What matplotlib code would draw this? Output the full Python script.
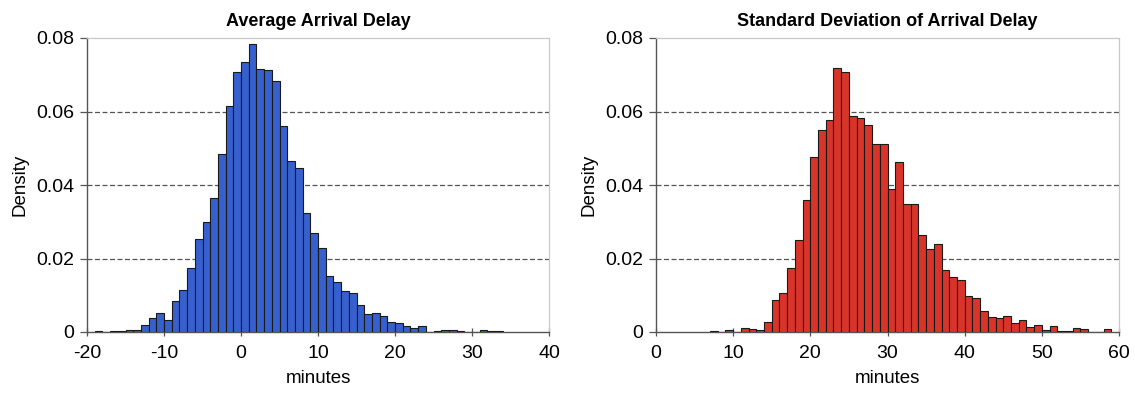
import matplotlib
matplotlib.use("Agg")
import matplotlib.pyplot as plt
from matplotlib.ticker import FixedLocator, FuncFormatter

plt.rcParams['font.family'] = ['Liberation Sans', 'DejaVu Sans']
plt.rcParams['axes.unicode_minus'] = False

# Histogram of average arrival delay (1-minute bins, left edges in minutes)
avg_edges = list(range(-19, 34))
avg_density = [
    0.0004, 0.0, 0.0003, 0.0003, 0.0005, 0.0006,            # -19 .. -14
    0.0020, 0.0038, 0.0052, 0.0032, 0.0083, 0.0114,        # -13 .. -8
    0.0175, 0.0254, 0.0300, 0.0365, 0.0485, 0.0616,        # -7 .. -2
    0.0708, 0.0735, 0.0785, 0.0716, 0.0714, 0.0683,        # -1 .. 4
    0.0561, 0.0465, 0.0445, 0.0323, 0.0270, 0.0229,        # 5 .. 10
    0.0153, 0.0136, 0.0111, 0.0106, 0.0073, 0.0049,        # 11 .. 16
    0.0053, 0.0044, 0.0026, 0.0024, 0.0017, 0.0010,        # 17 .. 22
    0.0017, 0.0, 0.0003, 0.0005, 0.0005, 0.0003,          # 23 .. 28
    0.0, 0.0, 0.0005, 0.0004, 0.0004,                      # 29 .. 33
]

# Histogram of the standard deviation of arrival delay
std_edges = list(range(7, 59))
std_density = [
    0.0004, 0.0, 0.0005, 0.0, 0.0010, 0.0008, 0.0005,      # 7 .. 13
    0.0026, 0.0086, 0.0105, 0.0175, 0.0251, 0.0358,        # 14 .. 19
    0.0475, 0.0551, 0.0577, 0.0719, 0.0708, 0.0587,        # 20 .. 25
    0.0582, 0.0563, 0.0511, 0.0511, 0.0389, 0.0462,        # 26 .. 31
    0.0348, 0.0348, 0.0265, 0.0225, 0.0240, 0.0168,        # 32 .. 37
    0.0149, 0.0141, 0.0097, 0.0092, 0.0056, 0.0040,        # 38 .. 43
    0.0037, 0.0044, 0.0024, 0.0034, 0.0014, 0.0020,        # 44 .. 49
    0.00045, 0.0017, 0.0004, 0.0004, 0.0011, 0.0008,       # 50 .. 55
    0.0, 0.0, 0.0007,                                      # 56 .. 58
]

titles = ["Average Arrival Delay", "Standard Deviation of Arrival Delay"]
x_limits = [(-20, 40), (0, 60)]
x_ticks = [[-20, -10, 0, 10, 20, 30, 40], [0, 10, 20, 30, 40, 50, 60]]
y_ticks = [0, 0.02, 0.04, 0.06, 0.08]
bar_colors = ["#3760cf", "#d9342a"]

fig = plt.figure(figsize=(11.35, 3.94), dpi=100)
ax1 = fig.add_axes([87 / 1135, 1 - 332 / 394, 462 / 1135, 294 / 394])
ax2 = fig.add_axes([656 / 1135, 1 - 332 / 394, 463 / 1135, 294 / 394])

series = [(avg_edges, avg_density), (std_edges, std_density)]

for i, ax in enumerate([ax1, ax2]):
    edges, dens = series[i]
    ax.set_axisbelow(True)
    ax.bar(edges, dens, width=1.0, align='edge', color=bar_colors[i],
           edgecolor='#1a1a1a', linewidth=0.8, zorder=3)
    ax.set_xlim(*x_limits[i])
    ax.set_ylim(0, 0.08)
    ax.xaxis.set_major_locator(FixedLocator(x_ticks[i]))
    ax.yaxis.set_major_locator(FixedLocator(y_ticks))
    ax.yaxis.set_major_formatter(FuncFormatter(lambda v, p: "0" if v == 0 else f"{v:.2f}"))
    for y in y_ticks[1:-1]:
        ax.axhline(y, color='#555555', linewidth=0.9, linestyle=(0, (4, 2)), zorder=1)
    for side in ['left', 'bottom']:
        ax.spines[side].set_color('#555555')
        ax.spines[side].set_linewidth(1.0)
    for side in ['top', 'right']:
        ax.spines[side].set_color('#c8c8c8')
        ax.spines[side].set_linewidth(0.9)
    ax.tick_params(axis='x', direction='inout', length=6, width=0.9,
                   color='#555555', labelsize=14, pad=6)
    ax.tick_params(axis='y', direction='out', length=5, width=0.9,
                   color='#555555', labelsize=14, pad=4)
    ax.set_title(titles[i], fontsize=13, fontweight='bold', pad=9)
    ax.set_xlabel("minutes", fontsize=13.5, labelpad=6)
    ax.set_ylabel("Density", fontsize=13.5, labelpad=6)

fig.savefig("out.png", dpi=100)
